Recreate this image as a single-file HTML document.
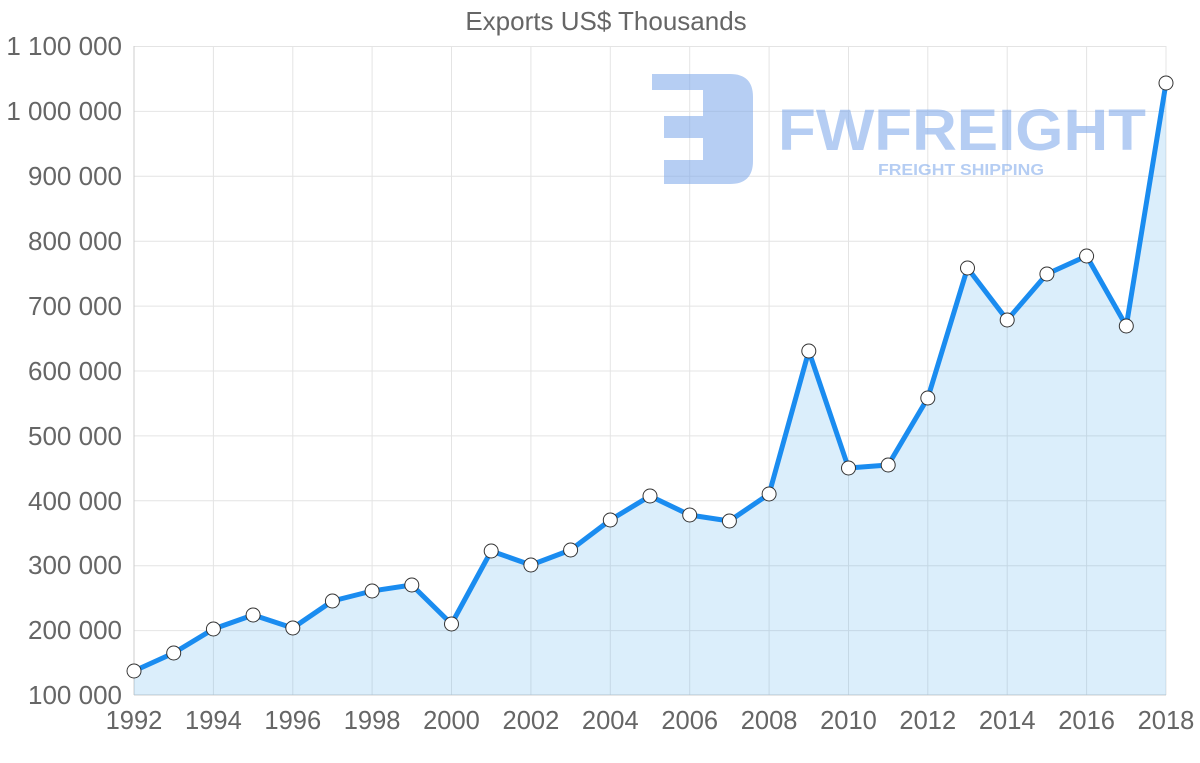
<!DOCTYPE html>
<html><head><meta charset="utf-8"><style>
html,body{margin:0;padding:0;background:#fff;}
svg{display:block;}
text{font-family:"Liberation Sans",sans-serif;}
</style></head><body>
<svg width="1200" height="763" viewBox="0 0 1200 763" xmlns="http://www.w3.org/2000/svg">
<text x="606" y="30" text-anchor="middle" font-size="26" fill="#666">Exports US$ Thousands</text>
<g stroke="#e4e4e4" stroke-width="1">
<line x1="134" x2="1166" y1="46.5" y2="46.5"/><line x1="134" x2="1166" y1="111.4" y2="111.4"/><line x1="134" x2="1166" y1="176.3" y2="176.3"/><line x1="134" x2="1166" y1="241.2" y2="241.2"/><line x1="134" x2="1166" y1="306.1" y2="306.1"/><line x1="134" x2="1166" y1="371" y2="371"/><line x1="134" x2="1166" y1="435.9" y2="435.9"/><line x1="134" x2="1166" y1="500.8" y2="500.8"/><line x1="134" x2="1166" y1="565.7" y2="565.7"/><line x1="134" x2="1166" y1="630.6" y2="630.6"/>
<line x1="213.4" x2="213.4" y1="46" y2="695"/><line x1="292.8" x2="292.8" y1="46" y2="695"/><line x1="372.1" x2="372.1" y1="46" y2="695"/><line x1="451.5" x2="451.5" y1="46" y2="695"/><line x1="530.9" x2="530.9" y1="46" y2="695"/><line x1="610.3" x2="610.3" y1="46" y2="695"/><line x1="689.7" x2="689.7" y1="46" y2="695"/><line x1="769.1" x2="769.1" y1="46" y2="695"/><line x1="848.5" x2="848.5" y1="46" y2="695"/><line x1="927.8" x2="927.8" y1="46" y2="695"/><line x1="1007.2" x2="1007.2" y1="46" y2="695"/><line x1="1086.6" x2="1086.6" y1="46" y2="695"/><line x1="1166" x2="1166" y1="46" y2="695"/>
</g>
<line x1="134" x2="134" y1="46" y2="695" stroke="#ccc"/>
<line x1="134" x2="1166" y1="695" y2="695" stroke="#ccc"/>
<g opacity="0.55" fill="#7aa6ea">
<path d="M652 74 H730 Q753 74 753 97 V161 Q753 184 730 184 H664 V160 H703 V138 H664 V116 H703 V90 H652 Z"/>
<text x="778" y="150" font-size="58" font-weight="bold" textLength="368" lengthAdjust="spacingAndGlyphs">FWFREIGHT</text>
<text x="878" y="175" font-size="16" font-weight="bold" font-family="Liberation Serif,serif" textLength="166" lengthAdjust="spacingAndGlyphs">FREIGHT SHIPPING</text>
</g>
<g font-size="26" fill="#666" text-anchor="end">
<text x="122" y="55">1 100 000</text><text x="122" y="120">1 000 000</text><text x="122" y="185">900 000</text><text x="122" y="250">800 000</text><text x="122" y="315">700 000</text><text x="122" y="380">600 000</text><text x="122" y="445">500 000</text><text x="122" y="510">400 000</text><text x="122" y="574">300 000</text><text x="122" y="639">200 000</text><text x="122" y="704">100 000</text>
</g>
<g font-size="25.5" fill="#666" text-anchor="middle">
<text x="134" y="729">1992</text><text x="213.4" y="729">1994</text><text x="292.8" y="729">1996</text><text x="372.1" y="729">1998</text><text x="451.5" y="729">2000</text><text x="530.9" y="729">2002</text><text x="610.3" y="729">2004</text><text x="689.7" y="729">2006</text><text x="769.1" y="729">2008</text><text x="848.5" y="729">2010</text><text x="927.8" y="729">2012</text><text x="1007.2" y="729">2014</text><text x="1086.6" y="729">2016</text><text x="1166" y="729">2018</text>
</g>
<polygon fill="rgba(54,162,235,0.18)" points="134,695 134,671 173.7,653 213.4,629 253.1,615 292.8,628 332.4,601 372.1,591 411.8,585 451.5,624 491.2,551 530.9,565 570.6,550 610.3,520 650,496 689.7,515 729.4,521 769.1,494 808.8,351 848.5,468 888.2,465 927.8,398 967.5,268 1007.2,320 1046.9,274 1086.6,256 1126.3,326 1166,83 1166,695"/>
<polyline fill="none" stroke="#1a8cf0" stroke-width="5" stroke-linejoin="round" points="134,671 173.7,653 213.4,629 253.1,615 292.8,628 332.4,601 372.1,591 411.8,585 451.5,624 491.2,551 530.9,565 570.6,550 610.3,520 650,496 689.7,515 729.4,521 769.1,494 808.8,351 848.5,468 888.2,465 927.8,398 967.5,268 1007.2,320 1046.9,274 1086.6,256 1126.3,326 1166,83"/>
<g fill="#fff" stroke="#333" stroke-width="1">
<circle cx="134" cy="671" r="7"/><circle cx="173.7" cy="653" r="7"/><circle cx="213.4" cy="629" r="7"/><circle cx="253.1" cy="615" r="7"/><circle cx="292.8" cy="628" r="7"/><circle cx="332.4" cy="601" r="7"/><circle cx="372.1" cy="591" r="7"/><circle cx="411.8" cy="585" r="7"/><circle cx="451.5" cy="624" r="7"/><circle cx="491.2" cy="551" r="7"/><circle cx="530.9" cy="565" r="7"/><circle cx="570.6" cy="550" r="7"/><circle cx="610.3" cy="520" r="7"/><circle cx="650" cy="496" r="7"/><circle cx="689.7" cy="515" r="7"/><circle cx="729.4" cy="521" r="7"/><circle cx="769.1" cy="494" r="7"/><circle cx="808.8" cy="351" r="7"/><circle cx="848.5" cy="468" r="7"/><circle cx="888.2" cy="465" r="7"/><circle cx="927.8" cy="398" r="7"/><circle cx="967.5" cy="268" r="7"/><circle cx="1007.2" cy="320" r="7"/><circle cx="1046.9" cy="274" r="7"/><circle cx="1086.6" cy="256" r="7"/><circle cx="1126.3" cy="326" r="7"/><circle cx="1166" cy="83" r="7"/>
</g>
</svg>
</body></html>
